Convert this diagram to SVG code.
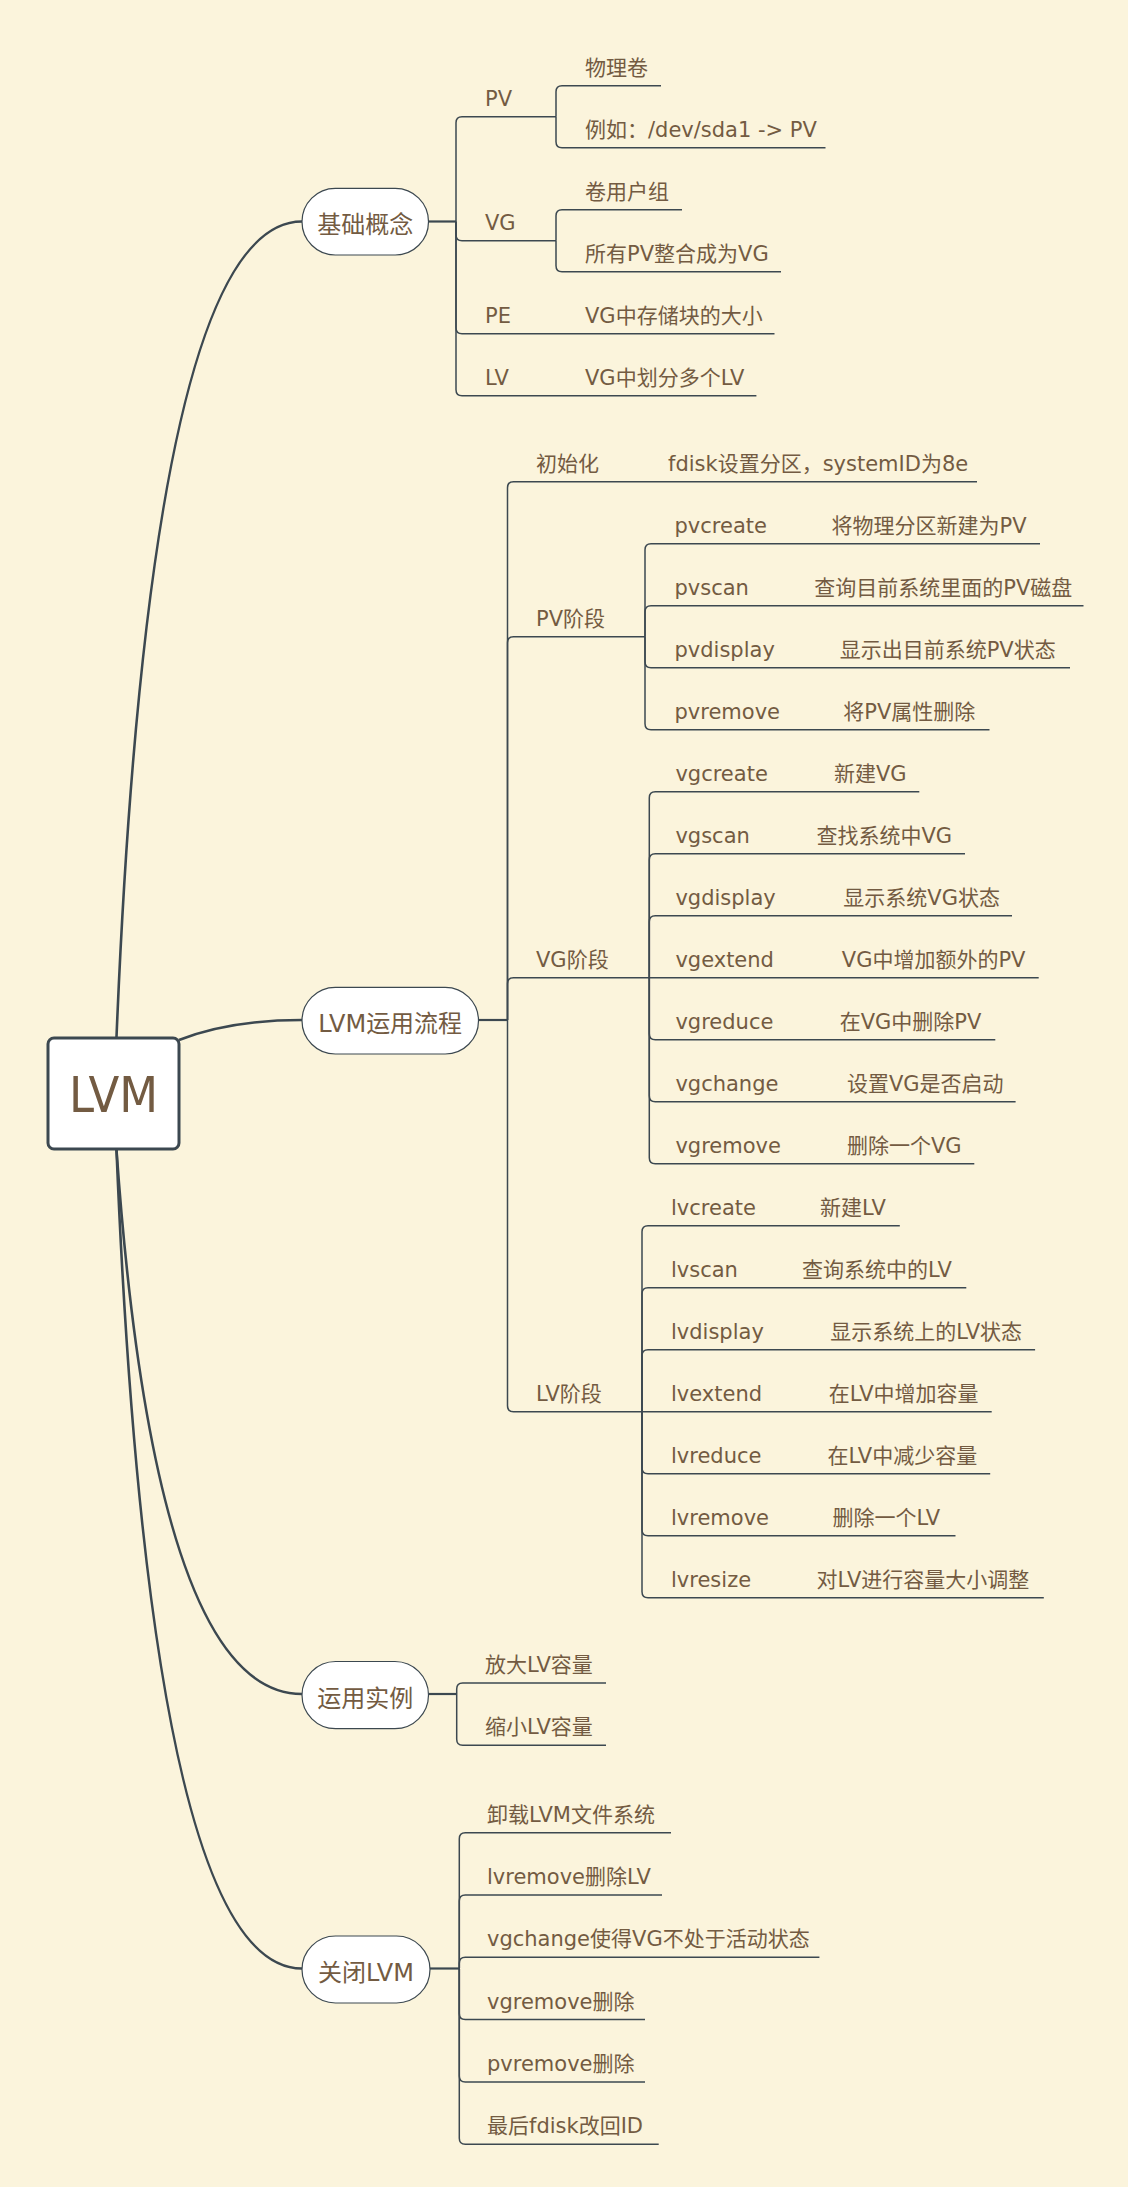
<svg xmlns="http://www.w3.org/2000/svg" width="1135" height="2201" viewBox="0 0 1135 2201">
<style>
.t{font-family:"DejaVu Sans","Noto Sans CJK SC",sans-serif;font-size:21px;fill:#735b42}
.mt{font-family:"DejaVu Sans","Noto Sans CJK SC",sans-serif;font-size:24px;fill:#735b42;text-anchor:middle}
.rt{font-family:"DejaVu Sans Condensed","DejaVu Sans",sans-serif;font-size:50px;fill:#735b42;text-anchor:middle}
.ln{fill:none;stroke:#3c4850;stroke-width:1.5}
.lk{fill:none;stroke:#3c4850;stroke-width:2.2}
.tr{fill:none;stroke:#3c4850;stroke-width:2.6}
.nd{fill:#ffffff;stroke:#3c4850;stroke-width:1.2}
.rn{fill:#ffffff;stroke:#3c4850;stroke-width:3}
</style>
<rect x="0" y="0" width="1135" height="2201" fill="#ffffff"/>
<rect x="0" y="0" width="1128" height="2187" fill="#fbf4dc"/>
<g id="connectors">
<path class="tr" d="M116.5 1037 Q150 221.5 302 221.5"/>
<path class="tr" d="M179 1040 Q230 1020 302 1020"/>
<path class="tr" d="M116.5 1150 Q155 1694 302 1694"/>
<path class="tr" d="M116.5 1150 Q150 1968.5 302 1968.5"/>
<path class="lk" d="M428.5 221.5 H456"/>
<path class="ln" d="M456 221.5 V122.7 Q456 116.7 462 116.7 H556"/>
<path class="ln" d="M456 221.5 V234.7 Q456 240.7 462 240.7 H556"/>
<path class="ln" d="M456 221.5 V327.7 Q456 333.7 462 333.7 H774.5"/>
<path class="ln" d="M456 221.5 V389.7 Q456 395.7 462 395.7 H756.4"/>
<path class="ln" d="M556 116.7 V91.7 Q556 85.7 562 85.7 H661"/>
<path class="ln" d="M556 116.7 V141.7 Q556 147.7 562 147.7 H825.5"/>
<path class="ln" d="M556 240.7 V215.7 Q556 209.7 562 209.7 H682"/>
<path class="ln" d="M556 240.7 V265.7 Q556 271.7 562 271.7 H781"/>
<path class="lk" d="M478.5 1020 H507.5"/>
<path class="ln" d="M507.5 1020 V487.7 Q507.5 481.7 513.5 481.7 H977"/>
<path class="ln" d="M507.5 1020 V642.7 Q507.5 636.7 513.5 636.7 H645"/>
<path class="ln" d="M507.5 1020 V983.7 Q507.5 977.7 513.5 977.7 H649.3"/>
<path class="ln" d="M507.5 1020 V1405.7 Q507.5 1411.7 513.5 1411.7 H642"/>
<path class="ln" d="M645 636.7 V549.7 Q645 543.7 651 543.7 H1040"/>
<path class="ln" d="M645 636.7 V611.7 Q645 605.7 651 605.7 H1083.5"/>
<path class="ln" d="M645 636.7 V661.7 Q645 667.7 651 667.7 H1070"/>
<path class="ln" d="M645 636.7 V723.7 Q645 729.7 651 729.7 H989.5"/>
<path class="ln" d="M649.3 977.7 V797.7 Q649.3 791.7 655.3 791.7 H919.3"/>
<path class="ln" d="M649.3 977.7 V859.7 Q649.3 853.7 655.3 853.7 H965"/>
<path class="ln" d="M649.3 977.7 V921.7 Q649.3 915.7 655.3 915.7 H1012"/>
<path class="ln" d="M649.3 977.7 H1038.7"/>
<path class="ln" d="M649.3 977.7 V1033.7 Q649.3 1039.7 655.3 1039.7 H995.3"/>
<path class="ln" d="M649.3 977.7 V1095.7 Q649.3 1101.7 655.3 1101.7 H1015.6"/>
<path class="ln" d="M649.3 977.7 V1157.7 Q649.3 1163.7 655.3 1163.7 H974.3"/>
<path class="ln" d="M642 1411.7 V1231.7 Q642 1225.7 648 1225.7 H899.8"/>
<path class="ln" d="M642 1411.7 V1293.7 Q642 1287.7 648 1287.7 H966.3"/>
<path class="ln" d="M642 1411.7 V1355.7 Q642 1349.7 648 1349.7 H1035.1"/>
<path class="ln" d="M642 1411.7 H991.7"/>
<path class="ln" d="M642 1411.7 V1467.7 Q642 1473.7 648 1473.7 H990.2"/>
<path class="ln" d="M642 1411.7 V1529.7 Q642 1535.7 648 1535.7 H955.5"/>
<path class="ln" d="M642 1411.7 V1591.7 Q642 1597.7 648 1597.7 H1043.8"/>
<path class="lk" d="M428.5 1694 H456.7"/>
<path class="ln" d="M456.7 1694 V1689 Q456.7 1683 462.7 1683 H606"/>
<path class="ln" d="M456.7 1694 V1739.2 Q456.7 1745.2 462.7 1745.2 H606"/>
<path class="lk" d="M430 1968.5 H459.3"/>
<path class="ln" d="M459.3 1968.5 V1838.7 Q459.3 1832.7 465.3 1832.7 H671"/>
<path class="ln" d="M459.3 1968.5 V1901 Q459.3 1895 465.3 1895 H662"/>
<path class="ln" d="M459.3 1968.5 V1963.3 Q459.3 1957.3 465.3 1957.3 H819.4"/>
<path class="ln" d="M459.3 1968.5 V2013.6 Q459.3 2019.6 465.3 2019.6 H645"/>
<path class="ln" d="M459.3 1968.5 V2075.9 Q459.3 2081.9 465.3 2081.9 H645"/>
<path class="ln" d="M459.3 1968.5 V2138.2 Q459.3 2144.2 465.3 2144.2 H658.7"/>
</g>
<g id="root">
<rect class="rn" x="48" y="1038" width="131" height="111" rx="6"/>
<text class="rt" x="113.5" y="1112">LVM</text>
</g>
<g id="basic">
<rect class="nd" x="302" y="188.3" width="126.5" height="66.7" rx="33.3"/>
<text class="mt" x="365.2" y="233">基础概念</text>
</g>
<g id="basic-pv"><text class="t" x="485" y="105.7">PV</text></g>
<g id="basic-pv-1"><text class="t" x="585" y="74.7">物理卷</text></g>
<g id="basic-pv-2"><text class="t" x="585" y="136.7">例如：/dev/sda1 -&gt; PV</text></g>
<g id="basic-vg"><text class="t" x="485" y="229.7">VG</text></g>
<g id="basic-vg-1"><text class="t" x="585" y="198.7">卷用户组</text></g>
<g id="basic-vg-2"><text class="t" x="585" y="260.7">所有PV整合成为VG</text></g>
<g id="basic-pe"><text class="t" x="485" y="322.7">PE</text></g>
<g id="basic-pe-1"><text class="t" x="585" y="322.7">VG中存储块的大小</text></g>
<g id="basic-lv"><text class="t" x="485" y="384.7">LV</text></g>
<g id="basic-lv-1"><text class="t" x="585" y="384.7">VG中划分多个LV</text></g>
<g id="flow">
<rect class="nd" x="302" y="987.3" width="176.5" height="66.7" rx="33.3"/>
<text class="mt" x="390.2" y="1032.2">LVM运用流程</text>
</g>
<g id="flow-init"><text class="t" x="536" y="470.7">初始化</text></g>
<g id="flow-init-1"><text class="t" x="668" y="470.7">fdisk设置分区，systemID为8e</text></g>
<g id="flow-pv"><text class="t" x="536" y="625.7">PV阶段</text></g>
<g id="pvcreate"><text class="t" x="674.5" y="532.7">pvcreate</text></g>
<g id="pvcreate-1"><text class="t" x="831.5" y="532.7">将物理分区新建为PV</text></g>
<g id="pvscan"><text class="t" x="674.5" y="594.7">pvscan</text></g>
<g id="pvscan-1"><text class="t" x="814.3" y="594.7">查询目前系统里面的PV磁盘</text></g>
<g id="pvdisplay"><text class="t" x="674.5" y="656.7">pvdisplay</text></g>
<g id="pvdisplay-1"><text class="t" x="839.7" y="656.7">显示出目前系统PV状态</text></g>
<g id="pvremove"><text class="t" x="674.5" y="718.7">pvremove</text></g>
<g id="pvremove-1"><text class="t" x="843.3" y="718.7">将PV属性删除</text></g>
<g id="flow-vg"><text class="t" x="536" y="966.7">VG阶段</text></g>
<g id="vgcreate"><text class="t" x="675.4" y="780.7">vgcreate</text></g>
<g id="vgcreate-1"><text class="t" x="833.9" y="780.7">新建VG</text></g>
<g id="vgscan"><text class="t" x="675.4" y="842.7">vgscan</text></g>
<g id="vgscan-1"><text class="t" x="816.5" y="842.7">查找系统中VG</text></g>
<g id="vgdisplay"><text class="t" x="675.4" y="904.7">vgdisplay</text></g>
<g id="vgdisplay-1"><text class="t" x="843.3" y="904.7">显示系统VG状态</text></g>
<g id="vgextend"><text class="t" x="675.4" y="966.7">vgextend</text></g>
<g id="vgextend-1"><text class="t" x="841.8" y="966.7">VG中增加额外的PV</text></g>
<g id="vgreduce"><text class="t" x="675.4" y="1028.7">vgreduce</text></g>
<g id="vgreduce-1"><text class="t" x="839.7" y="1028.7">在VG中删除PV</text></g>
<g id="vgchange"><text class="t" x="675.4" y="1090.7">vgchange</text></g>
<g id="vgchange-1"><text class="t" x="846.9" y="1090.7">设置VG是否启动</text></g>
<g id="vgremove"><text class="t" x="675.4" y="1152.7">vgremove</text></g>
<g id="vgremove-1"><text class="t" x="846.9" y="1152.7">删除一个VG</text></g>
<g id="flow-lv"><text class="t" x="536" y="1400.7">LV阶段</text></g>
<g id="lvcreate"><text class="t" x="671" y="1214.7">lvcreate</text></g>
<g id="lvcreate-1"><text class="t" x="820.1" y="1214.7">新建LV</text></g>
<g id="lvscan"><text class="t" x="671" y="1276.7">lvscan</text></g>
<g id="lvscan-1"><text class="t" x="802" y="1276.7">查询系统中的LV</text></g>
<g id="lvdisplay"><text class="t" x="671" y="1338.7">lvdisplay</text></g>
<g id="lvdisplay-1"><text class="t" x="830.3" y="1338.7">显示系统上的LV状态</text></g>
<g id="lvextend"><text class="t" x="671" y="1400.7">lvextend</text></g>
<g id="lvextend-1"><text class="t" x="828.8" y="1400.7">在LV中增加容量</text></g>
<g id="lvreduce"><text class="t" x="671" y="1462.7">lvreduce</text></g>
<g id="lvreduce-1"><text class="t" x="827.4" y="1462.7">在LV中减少容量</text></g>
<g id="lvremove"><text class="t" x="671" y="1524.7">lvremove</text></g>
<g id="lvremove-1"><text class="t" x="832.4" y="1524.7">删除一个LV</text></g>
<g id="lvresize"><text class="t" x="671" y="1586.7">lvresize</text></g>
<g id="lvresize-1"><text class="t" x="816.5" y="1586.7">对LV进行容量大小调整</text></g>
<g id="example">
<rect class="nd" x="302" y="1661.5" width="126.5" height="67.2" rx="33.6"/>
<text class="mt" x="365.2" y="1706.5">运用实例</text>
</g>
<g id="example-1"><text class="t" x="485" y="1672">放大LV容量</text></g>
<g id="example-2"><text class="t" x="485" y="1734.2">缩小LV容量</text></g>
<g id="close">
<rect class="nd" x="302" y="1936" width="128" height="67" rx="33.5"/>
<text class="mt" x="366" y="1981">关闭LVM</text>
</g>
<g id="close-1"><text class="t" x="487" y="1821.7">卸载LVM文件系统</text></g>
<g id="close-2"><text class="t" x="487" y="1884">lvremove删除LV</text></g>
<g id="close-3"><text class="t" x="487" y="1946.3">vgchange使得VG不处于活动状态</text></g>
<g id="close-4"><text class="t" x="487" y="2008.6">vgremove删除</text></g>
<g id="close-5"><text class="t" x="487" y="2070.9">pvremove删除</text></g>
<g id="close-6"><text class="t" x="487" y="2133.2">最后fdisk改回ID</text></g>
</svg>
